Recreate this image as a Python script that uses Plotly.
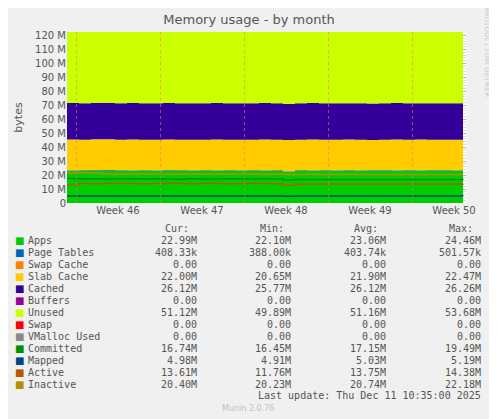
import plotly.graph_objects as go

days = list(range(34))
week_labels = ["Week 46", "Week 47", "Week 48", "Week 49", "Week 50"]
week_label_pos = [4.25, 11.25, 18.25, 25.25, 32.25]
week_starts = [0.8, 7.8, 14.8, 21.8, 28.8]

# values in millions of bytes
apps = [23.1, 23.0, 23.2, 23.1, 23.0, 23.1, 23.0, 23.1, 23.2, 23.0, 23.1, 23.0, 23.1, 23.0, 23.1, 23.0, 23.1,
        23.0, 22.3, 23.0, 23.1, 23.0, 23.1, 23.0, 23.1, 23.0, 23.0, 23.1, 23.0, 23.1, 23.0, 23.0, 23.1, 22.99]
page_tables = [0.40, 0.48, 0.50, 0.49, 0.45, 0.41, 0.40, 0.40, 0.41, 0.40, 0.40, 0.40, 0.41, 0.40, 0.40, 0.40, 0.40,
               0.40, 0.39, 0.40, 0.40, 0.40, 0.40, 0.41, 0.40, 0.40, 0.40, 0.40, 0.40, 0.41, 0.40, 0.40, 0.40, 0.41]
swap_cache = [0.0] * 34
slab_cache = [22.0, 21.8, 21.9, 22.0, 21.9, 22.0, 21.9, 21.8, 21.9, 22.0, 21.9, 21.9, 22.0, 21.9, 21.8, 21.9, 22.0,
              21.9, 22.4, 21.9, 22.0, 21.9, 21.9, 22.0, 21.9, 21.8, 21.9, 22.0, 21.9, 21.9, 22.0, 21.9, 21.9, 22.0]
cached = [26.1, 26.1, 26.2, 26.1, 26.1, 26.1, 26.2, 26.1, 26.1, 26.1, 26.1, 26.2, 26.1, 26.1, 26.1, 26.1, 26.1,
          26.1, 25.8, 26.1, 26.1, 26.2, 26.1, 26.1, 26.1, 26.1, 26.1, 26.2, 26.1, 26.1, 26.1, 26.1, 26.1, 26.12]
buffers = [0.0] * 34
unused = [51.0, 51.2, 50.9, 51.0, 51.2, 51.1, 51.0, 51.1, 51.0, 51.2, 51.1, 51.0, 51.1, 51.2, 51.1, 51.2, 51.0,
          51.1, 52.0, 51.2, 51.1, 51.0, 51.1, 51.2, 51.1, 51.3, 51.2, 51.0, 51.1, 51.2, 51.1, 51.2, 51.1, 51.12]
swap = [0.0] * 34
committed = [17.5, 17.4, 17.3, 17.2, 17.4, 17.3, 17.2, 17.3, 17.2, 17.1, 17.3, 17.2, 17.2, 17.3, 17.4, 17.2, 17.3,
             17.2, 16.5, 16.8, 16.9, 16.8, 16.8, 16.9, 16.8, 16.8, 16.9, 16.8, 16.8, 16.8, 16.9, 16.8, 16.8, 16.74]
mapped = [5.0, 5.1, 5.0, 5.0, 5.1, 5.0, 5.0, 5.0, 5.1, 5.0, 5.0, 5.0, 5.0, 5.1, 5.0, 5.0, 5.0,
          5.0, 4.9, 5.0, 5.0, 5.0, 5.1, 5.0, 5.0, 5.0, 5.0, 5.0, 5.1, 5.0, 5.0, 5.0, 5.0, 4.98]
active = [13.2, 13.9, 13.8, 14.0, 13.9, 14.0, 13.8, 13.9, 14.0, 13.9, 13.8, 14.0, 13.9, 13.8, 13.9, 14.0, 13.9,
          13.8, 12.8, 13.5, 13.6, 13.6, 13.6, 13.6, 13.6, 13.6, 13.6, 13.6, 13.6, 13.6, 13.6, 13.6, 13.6, 13.61]
inactive = [21.5, 21.6, 21.4, 20.8, 20.8, 20.7, 20.8, 20.7, 20.7, 20.8, 20.7, 20.7, 20.8, 20.7, 20.7, 20.7, 20.6,
            20.7, 20.5, 20.5, 20.6, 20.5, 20.5, 20.6, 20.5, 20.5, 20.5, 20.5, 20.5, 20.5, 20.4, 20.4, 20.4, 20.40]

rows = [
    ("Apps", "#00CC00", "22.99M", "22.10M", "23.06M", "24.46M"),
    ("Page Tables", "#0066B3", "408.33k", "388.00k", "403.74k", "501.57k"),
    ("Swap Cache", "#FF8000", "0.00", "0.00", "0.00", "0.00"),
    ("Slab Cache", "#FFCC00", "22.00M", "20.65M", "21.90M", "22.47M"),
    ("Cached", "#330099", "26.12M", "25.77M", "26.12M", "26.26M"),
    ("Buffers", "#990099", "0.00", "0.00", "0.00", "0.00"),
    ("Unused", "#CCFF00", "51.12M", "49.89M", "51.16M", "53.68M"),
    ("Swap", "#FF0000", "0.00", "0.00", "0.00", "0.00"),
    ("VMalloc Used", "#888888", "0.00", "0.00", "0.00", "0.00"),
    ("Committed", "#008F00", "16.74M", "16.45M", "17.15M", "19.49M"),
    ("Mapped", "#00487D", "4.98M", "4.91M", "5.03M", "5.19M"),
    ("Active", "#B35A00", "13.61M", "11.76M", "13.75M", "14.38M"),
    ("Inactive", "#B38F00", "20.40M", "20.23M", "20.74M", "22.18M"),
]

fig = go.Figure()
stacked = [("Apps", apps, "#00CC00"), ("Page Tables", page_tables, "#0066B3"),
           ("Swap Cache", swap_cache, "#FF8000"), ("Slab Cache", slab_cache, "#FFCC00"),
           ("Cached", cached, "#330099"), ("Buffers", buffers, "#990099"),
           ("Unused", unused, "#CCFF00"), ("Swap", swap, "#FF0000")]
for name, vals, color in stacked:
    fig.add_trace(go.Scatter(x=days, y=[v * 1e6 for v in vals], name=name, stackgroup="mem",
                             mode="lines", line=dict(width=0, color=color, shape="hv"),
                             fillcolor=color))
for name, vals, color in [("Committed", committed, "#008F00"), ("Mapped", mapped, "#00487D"),
                          ("Active", active, "#B35A00"), ("Inactive", inactive, "#B38F00")]:
    fig.add_trace(go.Scatter(x=days, y=[v * 1e6 for v in vals], name=name, mode="lines",
                             line=dict(width=1.5, color=color, shape="hv")))

for ws in week_starts:
    fig.add_vline(x=ws, line=dict(color="rgba(230,120,120,0.6)", width=1, dash="dot"))

# the page body adds an 8px offset; positions below are in reference pixels
O = 8
W, H = 497, 419
L, T = 67 - O, 32 - O
PW, PH = 399, 171
R, B = W - L - PW, H - T - PH


def px(x):
    return (x - O - L) / PW


def py(y):
    return (H - B - (y - O)) / PH


font = "DejaVu Sans"
mono = "DejaVu Sans Mono"
grey = "#555555"
col_left = [163, 258, 352, 447]
col_right = [199, 293, 388, 483]
ann = []
for head, xl in zip(["Cur:", "Min:", "Avg:", "Max:"], col_left):
    ann.append(dict(x=px(xl), y=py(228), text=head, xanchor="left"))
for i, (name, color, cur, mn, avg, mx) in enumerate(rows):
    yy = py(240 + i * 12)
    ann.append(dict(x=px(26), y=yy, text=name, xanchor="left"))
    ann.append(dict(x=px(13), y=yy, text="■", xanchor="left", font=dict(color=color, size=10, family=font)))
    for val, xr in zip([cur, mn, avg, mx], col_right):
        ann.append(dict(x=px(xr), y=yy, text=val, xanchor="right"))
ann.append(dict(x=px(483), y=py(395), text="Last update: Thu Dec 11 10:35:00 2025", xanchor="right"))
ann.append(dict(x=px(248), y=py(408), text="Munin 2.0.76", xanchor="center",
                font=dict(size=8, color="#c0c0c0", family=font)))
ann.append(dict(x=px(487), y=py(5), text="RRDTOOL / TOBI OETIKER", textangle=90, xanchor="center", yanchor="top",
                font=dict(size=7, color="#c8c8c8", family=font)))
for a in ann:
    a.setdefault("font", dict(size=10, color=grey, family=mono))
    a.update(xref="paper", yref="paper", showarrow=False, yanchor=a.get("yanchor", "middle"))
fig.update_layout(annotations=ann)

fig.update_layout(
    width=W, height=H, showlegend=False,
    paper_bgcolor="#F0F0F0", plot_bgcolor="#FFFFFF",
    margin=dict(l=L, r=R, t=T, b=B, autoexpand=False),
    title=dict(text="Memory usage - by month", x=(249 - O) / W, y=1 - (19 - O) / H, xanchor="center",
               yanchor="middle", font=dict(family=font, size=13, color=grey)),
    font=dict(family=font, size=10, color=grey),
)
fig.update_xaxes(range=[0, 33.25], tickmode="array", tickvals=week_label_pos, ticktext=week_labels,
                 showgrid=False, zeroline=False, ticks="", tickfont=dict(size=10),
                 minor=dict(dtick=1, tick0=0.8, showgrid=True, gridcolor="#dddddd", griddash="dot"))
fig.update_yaxes(range=[0, 122.5e6], tickmode="array", tickvals=[i * 10e6 for i in range(13)],
                 ticktext=["0"] + [f"{i * 10} M" for i in range(1, 13)],
                 showgrid=True, gridcolor="rgba(230,120,120,0.6)", griddash="dot", zeroline=False,
                 minor=dict(dtick=2e6, showgrid=True, gridcolor="#dddddd", griddash="dot"),
                 title=dict(text="bytes", font=dict(size=11), standoff=10), tickfont=dict(size=10))

fig.write_html("out.html")
